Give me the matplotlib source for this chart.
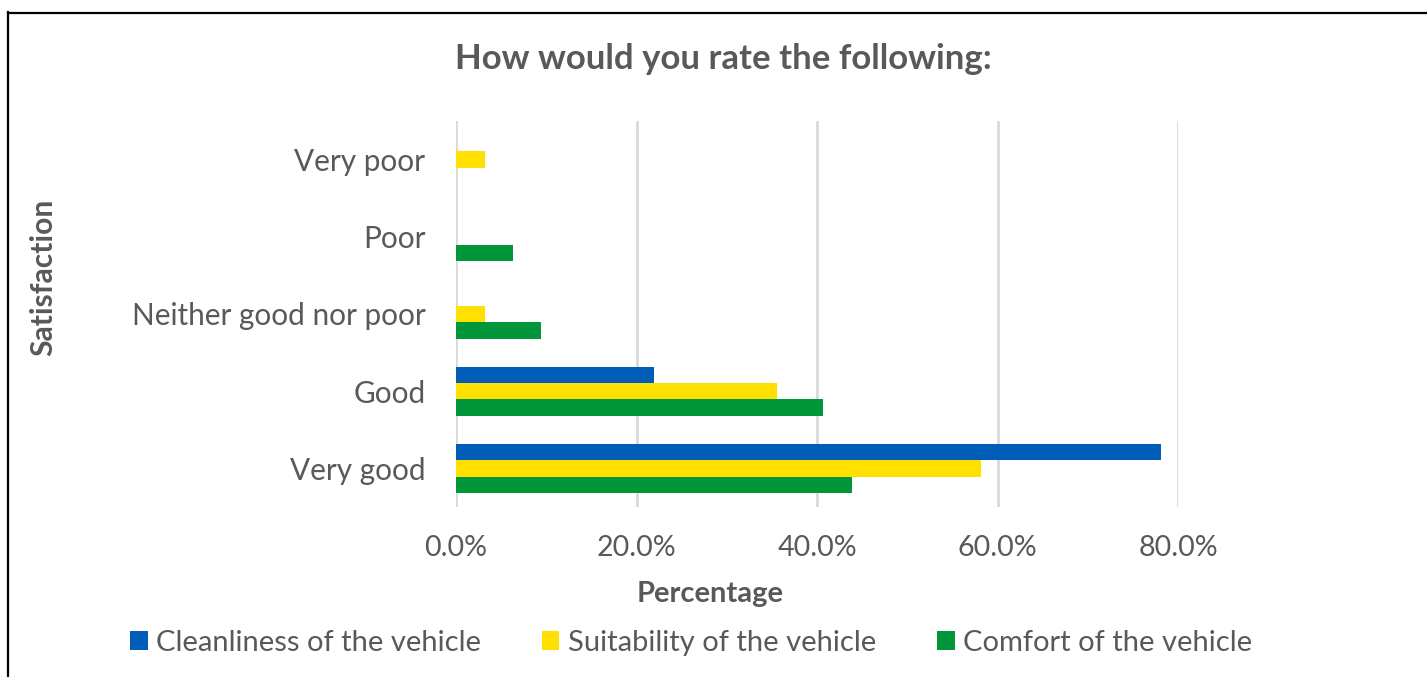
import numpy as np
import matplotlib
matplotlib.use("Agg")
from matplotlib import pyplot as plt
from matplotlib.patches import Patch
from matplotlib.lines import Line2D
from matplotlib.ticker import FuncFormatter

categories = ["Very poor", "Poor", "Neither good nor poor", "Good", "Very good"]
series_names = ["Cleanliness of the vehicle", "Suitability of the vehicle", "Comfort of the vehicle"]
cleanliness = [0.0, 0.0, 0.0, 21.9, 78.1]
suitability = [3.2, 0.0, 3.2, 35.6, 58.2]
comfort = [0.0, 6.3, 9.4, 40.7, 43.9]
colors = ["#005EB8", "#FFE000", "#009639"]
x_ticks = [0, 20, 40, 60, 80]

text_color = "#595959"
plt.rcParams["font.family"] = ["Lato", "DejaVu Sans"]

W, H = 1427, 677
fig = plt.figure(figsize=(W / 100, H / 100), dpi=100)
ax = fig.add_axes([456 / W, 1 - 507 / H, (1178 - 456) / W, (507 - 121) / H])

y = np.arange(len(categories))[::-1].astype(float)
bar_h = 0.213
for i, (vals, col) in enumerate(zip([cleanliness, suitability, comfort], colors)):
    ax.barh(y + (1 - i) * bar_h, vals, height=bar_h, color=col, label=series_names[i], zorder=3)

ax.set_xlim(0, 80)
ax.set_ylim(-0.5, len(categories) - 0.5)
ax.set_xticks(x_ticks)
ax.xaxis.set_major_formatter(FuncFormatter(lambda v, p: f"{v:.1f}%"))
ax.set_yticks(y)
ax.set_yticklabels(categories)
ax.tick_params(axis="both", length=0, colors=text_color)
ax.tick_params(axis="y", pad=22, labelsize=21.4)
ax.tick_params(axis="x", pad=20, labelsize=20.6)
ax.grid(axis="x", color="#D9D9D9", linewidth=2, zorder=0)
for s in ax.spines.values():
    s.set_visible(False)

fig.text(723 / W, 1 - 59 / H, "How would you rate the following:", ha="center", va="center",
         fontsize=25, fontweight="bold", color=text_color)
fig.text(43 / W, 1 - 277 / H, "Satisfaction", ha="center", va="center", rotation=90,
         fontsize=21.6, fontweight="bold", color=text_color)
fig.text(710 / W, 1 - 594 / H, "Percentage", ha="center", va="center",
         fontsize=21, fontweight="bold", color=text_color)

handles = [Patch(facecolor=c, edgecolor="none") for c in colors]
fig.legend(handles, series_names, loc="center", bbox_to_anchor=(691 / W, 1 - 643 / H), ncol=3,
           frameon=False, fontsize=21, handlelength=0.6, handleheight=0.6, handletextpad=0.28,
           columnspacing=2.1, labelcolor=text_color)

# outer chart border (top and left edges only)
fig.add_artist(Line2D([7.5 / W, 7.5 / W], [0, 1 - 12 / H], color="black", linewidth=1.6))
fig.add_artist(Line2D([7.5 / W, 1], [1 - 12.5 / H, 1 - 12.5 / H], color="black", linewidth=1.6))

fig.savefig("out.png", dpi=100)
